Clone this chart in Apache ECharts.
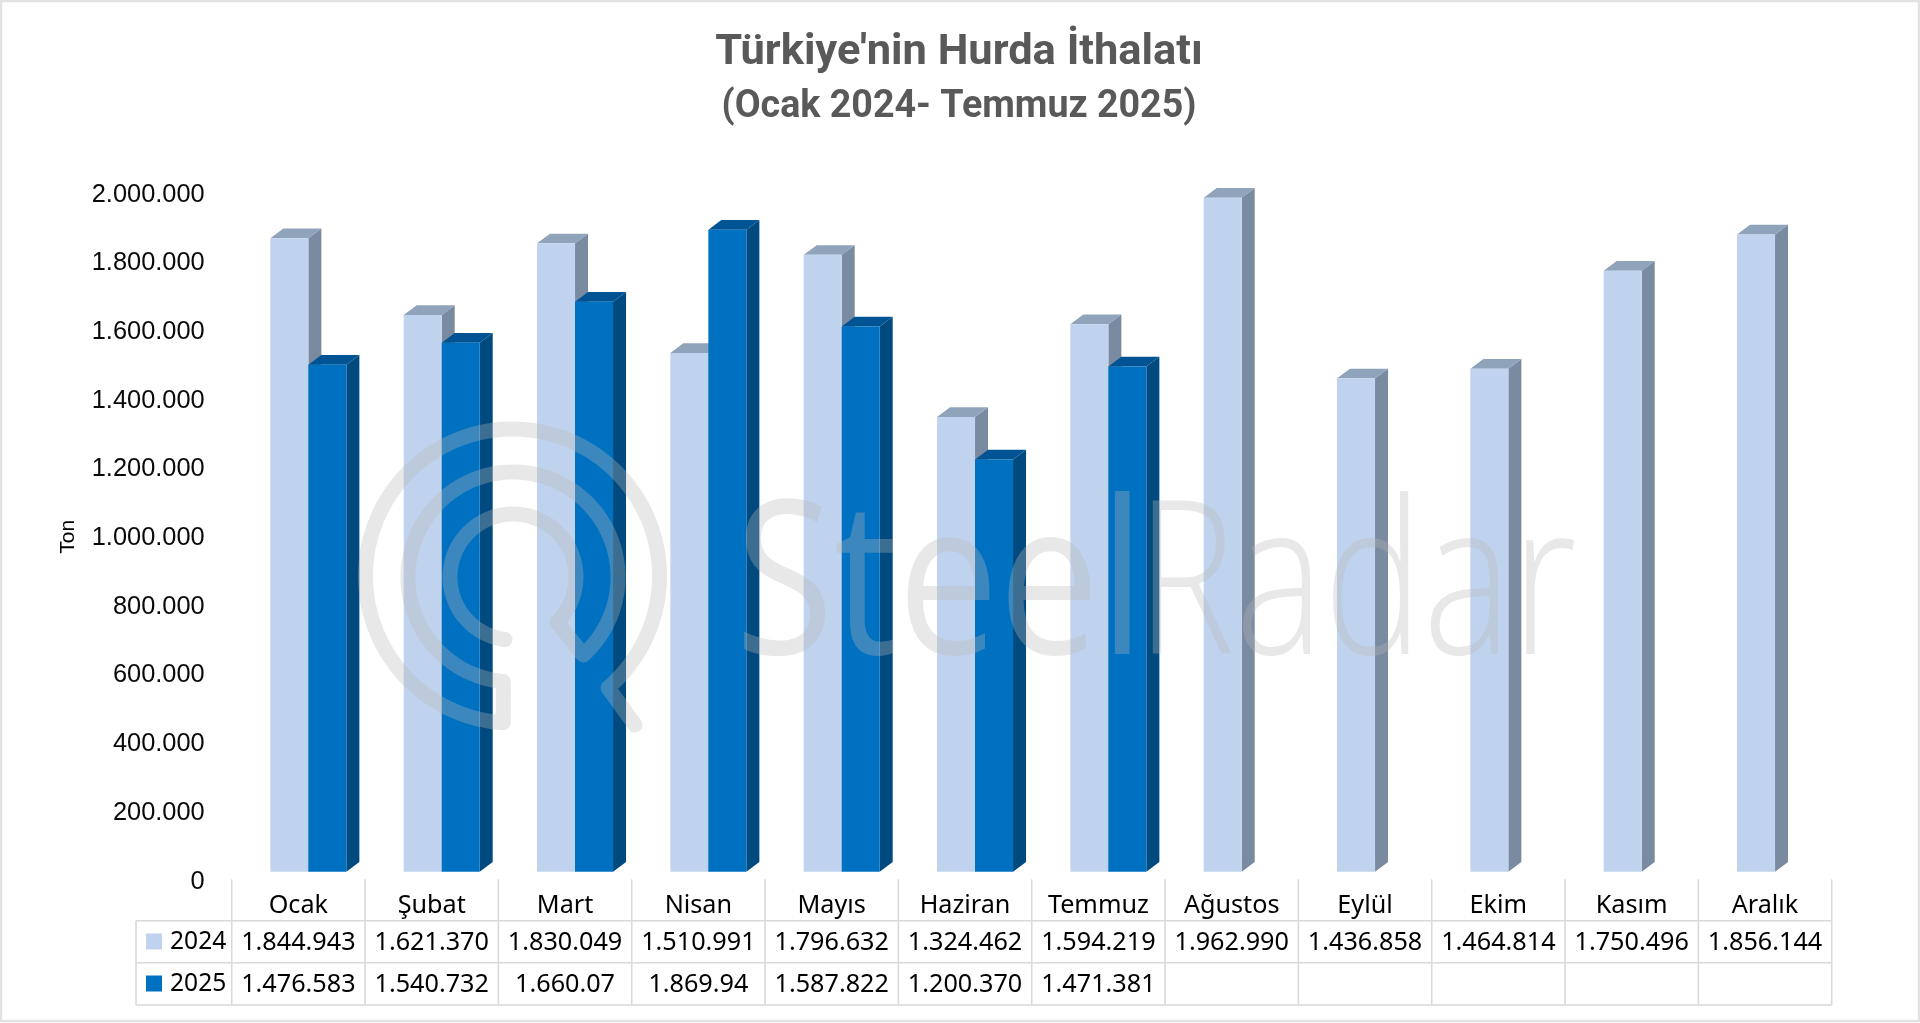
<!DOCTYPE html>
<html><head><meta charset="utf-8">
<style>html,body{margin:0;padding:0;background:#fff;overflow:hidden}#c{width:1920px;height:1023px}</style>
<script src="https://cdn.jsdelivr.net/npm/echarts@6/dist/echarts.min.js"></script>
</head><body><div id="c"></div>
<script>
const titleLines = ["Türkiye'nin Hurda İthalatı", '(Ocak 2024- Temmuz 2025)'];
const months = ['Ocak','Şubat','Mart','Nisan','Mayıs','Haziran','Temmuz','Ağustos','Eylül','Ekim','Kasım','Aralık'];
const values2024 = [1844943,1621370,1830049,1510991,1796632,1324462,1594219,1962990,1436858,1464814,1750496,1856144];
const values2025 = [1476583,1540732,1660070,1869940,1587822,1200370,1471381,null,null,null,null,null];
const labels2024 = ['1.844.943','1.621.370','1.830.049','1.510.991','1.796.632','1.324.462','1.594.219','1.962.990','1.436.858','1.464.814','1.750.496','1.856.144'];
const labels2025 = ['1.476.583','1.540.732','1.660.07','1.869.94','1.587.822','1.200.370','1.471.381','','','','',''];
const yTickLabels = ['0','200.000','400.000','600.000','800.000','1.000.000','1.200.000','1.400.000','1.600.000','1.800.000','2.000.000'];

const GL = 231.7, GW = 1600, GT = 185, GB = 871.7;
const COL = GW / months.length;
const LINE = '#d9d9d9';
const WM = 'rgba(185,185,185,0.325)';
const TABLE_FONT = '"Noto Sans"';

function bar3d(front, top, side, startRatio) {
  return function (params, api) {
    const i = api.value(0), v = api.value(1);
    const p = api.coord([i, v]), base = api.coord([i, 0]);
    const band = api.size([1, 0])[0];
    const x0 = p[0] + startRatio * band, w = 0.285 * band, dx = 0.0975 * band, dy = 9.7;
    const x1 = x0 + w, yT = p[1], yB = base[1];
    return { type: 'group', children: [
      { type: 'polygon', shape: { points: [[x1,yT],[x1+dx,yT-dy],[x1+dx,yB-dy],[x1,yB]] }, style: { fill: side } },
      { type: 'polygon', shape: { points: [[x0,yT],[x0+dx,yT-dy],[x1+dx,yT-dy],[x1,yT]] }, style: { fill: top } },
      { type: 'rect', shape: { x: x0, y: yT, width: w, height: yB - yT }, style: { fill: front } }
    ]};
  };
}
const toData = arr => arr.map((v, i) => v == null ? null : [i, v]).filter(Boolean);

function arcPts(cx, cy, r, a0, a1) {
  const out = [], n = Math.ceil(Math.abs(a1 - a0));
  for (let k = 0; k <= n; k++) {
    const a = (a0 + (a1 - a0) * k / n) * Math.PI / 180;
    out.push([cx + r * Math.cos(a), cy + r * Math.sin(a)]);
  }
  return out;
}
const logoPoints = [[635, 725]].concat(
  arcPts(512.5, 576, 147, 49.5, -266.4),
  arcPts(513, 577, 105, 95.3, 408),
  arcPts(513, 577, 63, 45.6, -262.8)
);

const graphics = [
  { type: 'rect', z: 0, shape: { x: 1, y: 1, width: 1918, height: 1020 }, style: { fill: 'none', stroke: '#e2e2e2', lineWidth: 2.5 } }
];
[920.7, 962.7, 1005].forEach(y => graphics.push({ type: 'line', z: 1, shape: { x1: 136, y1: y, x2: GL + GW, y2: y }, style: { stroke: LINE, lineWidth: 1.6 } }));
graphics.push({ type: 'line', z: 1, shape: { x1: 136, y1: 920.7, x2: 136, y2: 1005 }, style: { stroke: LINE, lineWidth: 1.6 } });
for (let i = 0; i <= months.length; i++) {
  const x = GL + i * COL;
  graphics.push({ type: 'line', z: 1, shape: { x1: x, y1: 879.3, x2: x, y2: 1005 }, style: { stroke: LINE, lineWidth: 1.6 } });
}
// title
graphics.push({ type: 'text', z: 50, x: 959, y: 32, scaleX: 1.034, scaleY: 1,
  style: { text: titleLines[0], fill: '#595959', font: '700 42px Roboto', textAlign: 'center', textBaseline: 'top' } });
graphics.push({ type: 'text', z: 50, x: 959, y: 88, scaleX: 0.99, scaleY: 1,
  style: { text: titleLines[1], fill: '#595959', font: '700 38px Roboto', textAlign: 'center', textBaseline: 'top' } });
// watermark
graphics.push({ type: 'polyline', z: 100, silent: true, shape: { points: logoPoints },
  style: { fill: 'none', stroke: WM, lineWidth: 15, lineCap: 'round', lineJoin: 'round' } });
graphics.push({ type: 'text', z: 100, silent: true, x: 735, y: 486, scaleX: 0.84, scaleY: 1,
  style: { text: 'Steel', fill: WM, font: '500 214px "Open Sans"', textAlign: 'left', textBaseline: 'top' } });
graphics.push({ type: 'text', z: 100, silent: true, x: 1136, y: 486, scaleX: 0.78, scaleY: 1,
  style: { text: 'Radar', fill: WM, font: '300 214px "Open Sans"', textAlign: 'left', textBaseline: 'top' } });

const hiddenAxis = { type: 'category', position: 'bottom', axisLine: { show: false }, axisTick: { show: false }, splitLine: { show: false } };
const tableLabel = margin => ({ interval: 0, margin, color: '#000', fontSize: 25.2, fontFamily: TABLE_FONT, hideOverlap: false });

const option = {
  animation: false,
  backgroundColor: '#fff',
  legend: {
    orient: 'vertical', left: 146, top: 929, padding: 0, itemWidth: 16, itemHeight: 16, itemGap: 17, selectedMode: false,
    data: ['2024', '2025'], icon: 'rect',
    textStyle: { color: '#000', fontSize: 24.6, fontFamily: TABLE_FONT, padding: [0, 0, 0, 3] }
  },
  grid: { left: GL, top: GT, width: GW, height: GB - GT, containLabel: false },
  xAxis: [
    Object.assign({}, hiddenAxis, { data: months, axisLabel: tableLabel(22) }),
    Object.assign({}, hiddenAxis, { data: labels2024, offset: 38, axisLabel: tableLabel(21) }),
    Object.assign({}, hiddenAxis, { data: labels2025, offset: 80, axisLabel: tableLabel(21) })
  ],
  yAxis: {
    type: 'value', min: 0, max: 2000000, interval: 200000,
    name: 'Ton', nameLocation: 'middle', nameGap: 153,
    nameTextStyle: { color: '#000', fontSize: 21, fontFamily: '"Liberation Sans"', padding: [0, 17, 0, 0] },
    axisLine: { show: false }, axisTick: { show: false }, splitLine: { show: false },
    axisLabel: { margin: 27, color: '#0a0a0a', fontSize: 25.4, fontFamily: '"Liberation Sans"', verticalAlign: 'top', lineHeight: 19.6,
      formatter: (v, idx) => yTickLabels[idx] }
  },
  series: [
    { name: '2024', type: 'custom', clip: false, xAxisIndex: 0, data: toData(values2024), encode: { x: 0, y: 1 },
      itemStyle: { color: '#C0D3EE' }, renderItem: bar3d('#C0D3EE', '#8FA3BB', '#7A8AA0', -0.21), z: 2 },
    { name: '2025', type: 'custom', clip: false, xAxisIndex: 0, data: toData(values2025), encode: { x: 0, y: 1 },
      itemStyle: { color: '#0070C0' }, renderItem: bar3d('#0070C0', '#005494', '#004A80', 0.075), z: 3 }
  ],
  graphic: { elements: graphics }
};
echarts.init(document.getElementById('c'), null, { renderer: 'canvas' }).setOption(option);
</script></body></html>
